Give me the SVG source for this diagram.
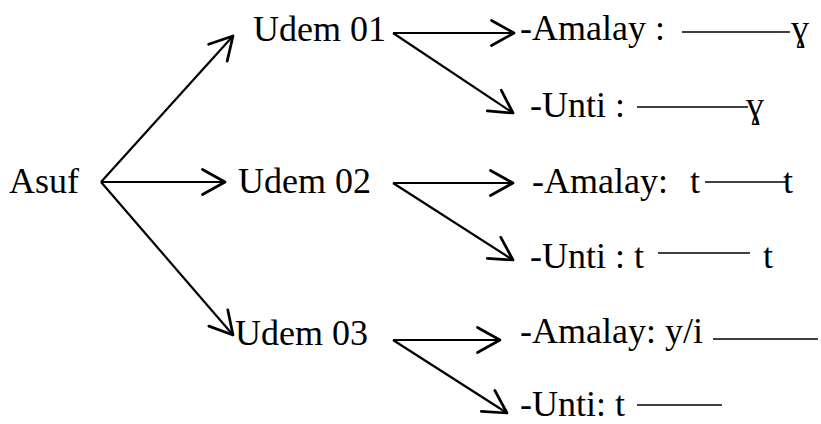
<svg xmlns="http://www.w3.org/2000/svg" width="821" height="424" viewBox="0 0 821 424">
<defs>
<marker id="arr" markerUnits="userSpaceOnUse" markerWidth="30" markerHeight="30" refX="0" refY="0" viewBox="-22 -12 24 24" orient="auto" overflow="visible">
<path d="M-18,-10 L0,0 L-18,10" fill="none" stroke="#000" stroke-width="2.2" stroke-linecap="round" stroke-linejoin="round"/>
</marker>
<style>
text{font-family:"Times New Roman",Tinos,"Liberation Serif",Times,serif;font-size:36px;fill:#000}
.c{stroke:#000;stroke-width:2.2;fill:none;marker-end:url(#arr)}
.d{stroke:#000;stroke-width:1.6}
</style>
</defs>
<rect width="821" height="424" fill="#fff"/>
<g id="connectors">
<line class="c" x1="101" y1="182" x2="233" y2="36"/>
<line class="c" x1="101" y1="182" x2="225" y2="182"/>
<line class="c" x1="101" y1="182" x2="233" y2="335"/>
<line class="c" x1="393" y1="33" x2="514" y2="33"/>
<line class="c" x1="393" y1="33" x2="513" y2="113"/>
<line class="c" x1="393" y1="183" x2="513" y2="183"/>
<line class="c" x1="393" y1="183" x2="513" y2="260"/>
<line class="c" x1="393" y1="340" x2="500" y2="340"/>
<line class="c" x1="393" y1="340" x2="507" y2="413"/>
</g>
<g id="asuf"><text x="9" y="193">Asuf</text></g>
<g id="udem01"><text x="253" y="41">Udem 01</text></g>
<g id="udem02"><text x="238" y="193">Udem 02</text></g>
<g id="udem03"><text x="235" y="345">Udem 03</text></g>
<g id="u1-amalay"><text x="520" y="40">-Amalay :</text><line class="d" x1="682" y1="32" x2="790" y2="32"/><text x="791" y="40">ɣ</text></g>
<g id="u1-unti"><text x="530" y="117">-Unti :</text><line class="d" x1="637" y1="107" x2="748" y2="107"/><text x="746" y="117">ɣ</text></g>
<g id="u2-amalay"><text x="532" y="193">-Amalay:</text><text x="690" y="193">t</text><line class="d" x1="705" y1="182" x2="786" y2="182"/><text x="783" y="193">t</text></g>
<g id="u2-unti"><text x="530" y="268">-Unti : t</text><line class="d" x1="658" y1="253" x2="750" y2="253"/><text x="763" y="268">t</text></g>
<g id="u3-amalay"><text x="520" y="343">-Amalay: y/i</text><line class="d" x1="713" y1="339" x2="818" y2="339"/></g>
<g id="u3-unti"><text x="520" y="416">-Unti: t</text><line class="d" x1="637" y1="405" x2="722" y2="405"/></g>
</svg>
